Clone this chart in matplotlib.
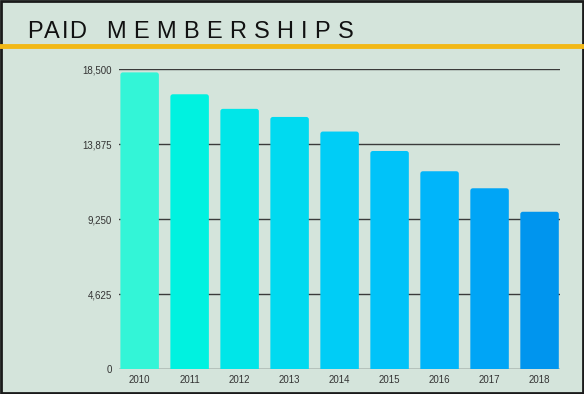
import matplotlib
matplotlib.use("Agg")
import matplotlib.pyplot as plt
from matplotlib.patches import Rectangle, FancyBboxPatch
import numpy as np

# data
years = ['2010', '2011', '2012', '2013', '2014', '2015', '2016', '2017', '2018']
members = [18300, 16950, 16050, 15550, 14650, 13450, 12200, 11150, 9700]
bar_colors = ['#33f5d7', '#00f2e0', '#00e6e8', '#00daf0', '#00cdf6',
              '#00c3f9', '#00b5fa', '#00a5f6', '#0095ee']
yticks = [0, 4625, 9250, 13875, 18500]

bg = '#d4e4db'
plt.rcParams['font.family'] = ['Liberation Sans', 'DejaVu Sans']

fig = plt.figure(figsize=(5.84, 3.94), dpi=100, facecolor=bg)
ax = fig.add_axes([0.204, 0.0635, 0.755, 0.761])
ax.set_facecolor(bg)

x = np.arange(len(years))
bars = ax.bar(x, members, width=0.77, color=bar_colors, zorder=3)

ax.set_xlim(-0.41, len(years) - 1 + 0.41)
ax.set_ylim(0, 18500)

# swap the plain bars for ones with slightly rounded corners
bw_px = ax.get_window_extent().width / (ax.get_xlim()[1] - ax.get_xlim()[0])
bh_px = ax.get_window_extent().height / (ax.get_ylim()[1] - ax.get_ylim()[0])
aspect = bw_px / bh_px
for b in bars:
    b.set_visible(False)
    rb = FancyBboxPatch((b.get_x(), -300), b.get_width(), b.get_height() + 300,
                        boxstyle='round,pad=0,rounding_size=0.05',
                        mutation_aspect=aspect, facecolor=b.get_facecolor(),
                        edgecolor='none', zorder=3)
    ax.add_patch(rb)

ax.set_yticks(yticks)
ax.set_yticklabels(['{:,}'.format(v) for v in yticks])
ax.set_xticks(x)
ax.set_xticklabels(years)
ax.tick_params(axis='both', length=0, labelsize=7, colors='#333333')
ax.tick_params(axis='y', pad=5)
ax.tick_params(axis='x', pad=4)
ax.grid(axis='y', color='#3a3a3a', linewidth=1.0, zorder=1)
ax.set_axisbelow(True)
for s in ax.spines.values():
    s.set_visible(False)

# title: letter-spaced, wider in "MEMBERSHIPS"
W, H = fig.get_size_inches() * fig.dpi
renderer = fig.canvas.get_renderer()
ty = 1 - 38 / H

def spaced(word, start, track):
    px = start
    for ch in word:
        t = fig.text(px / W, ty, ch, fontsize=17, color='#111111', va='baseline')
        px += t.get_window_extent(renderer).width + track

spaced('PAID', 27, 1.5)
spaced('MEMBERSHIPS', 106, 7.3)

# yellow rule under the title
fig.add_artist(plt.Line2D([0, 1], [0.882, 0.882], transform=fig.transFigure,
                          color='#f2b817', linewidth=3.5))
# frame around the whole picture
fig.add_artist(Rectangle((0.002, 0.003), 0.996, 0.994, transform=fig.transFigure,
                         fill=False, edgecolor='#1a1a1a', linewidth=2))

fig.savefig('out.png', dpi=100, facecolor=bg)
